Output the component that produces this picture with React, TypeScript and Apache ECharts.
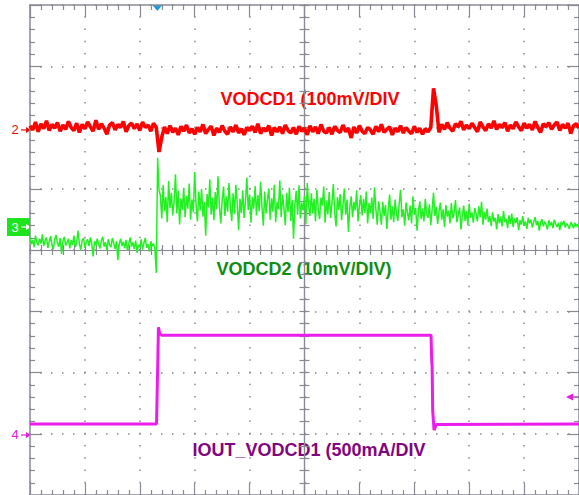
import React, { useEffect, useRef } from "react";
import * as echarts from "echarts";

// time base: 10 horizontal divisions (-5 .. 5)
const T0 = -5;
const RED_DT = 0.05; // div per sample, CH2
const GREEN_DT = 0.025; // div per sample, CH3

// CH2 VODCD1, mV relative to its ground marker (100 mV/div)
const VODCD1_MV = [
  7, 0, 13, -3, 10, 2, 15, -1, 9, 3,
  12, -2, 8, 1, 14, 4, -1, 11, -4, 9,
  2, 13, 5, -2, 16, 1, 10, 3, -7, 8,
  12, 0, 9, 4, 14, -3, 7, 11, 2, 10,
  -1, 13, 4, 8, -2, 11, 4,
  -36, -12,
  5, -6, 7, -4, 3, -8, 6, -2, 8, -5, 2,
  -7, 4, -3, 9, -6, 1, 6, -9, 3, -4,
  7, -2, -7, 5, -3, 8, -5, 2, -8, 4,
  -1, 6, -4, 10, -6, 3, -2, 7, -9, 4,
  -3, 5, -6, 8, -1, -5, 4, -7, 6, -2,
  3, -8, 7, -3, 5, -6, 9, -2, -5, 4,
  -7, 6, -1, -4, 8, -3, 3, -13, 5, -5,
  7, -2, -6, 4, 0, -7, 6, -3, 9, -4,
  1, 5, -8, 3, -3, 7, -5, 4, -2, -6,
  6, -4, 3, -7, 2, -3, 4,
  68, 40, -4,
  9, 1, 12, 3, -2, 10, 5, 14, 0, 8,
  2, 11, 4, -3, 13, 5, -1, 10, 3, 15,
  1, 9, 4, 12, -2, 8, 2, 13, 5, -1,
  11, 3, 9, 0, 14, 4, -4, 10, 5, 12,
  1, 8, 13, -1, 9, 3, 11, -6, 7, 10, 3,
];

// CH3 VODCD2, mV relative to its ground marker (10 mV/div)
const VODCD2_MV = [
  // before the load step
  -1.6, -2.8, -2.1, -3.3, -1.4, -2.5, -3.0, -1.9, -2.7, -1.2,
  -3.1, -2.2, -1.7, -3.4, -2.4, -1.5, -2.9, -3.6, -2.0, -1.3,
  -2.6, -3.2, -1.8, -4.4, -2.3, -1.6, -3.0, -2.5, -1.9, -3.5,
  -2.1, -2.9, -1.4, -3.3, -2.6, -0.6, -2.8, -3.7, -2.2, -1.8,
  -3.4, -2.4, -2.0, -3.1, -1.7, -2.7, -4.8, -2.3, -3.0, -1.9,
  -2.8, -3.5, -2.2, -1.6, -3.2, -2.5, -3.8, -2.0, -2.9, -3.3,
  -1.8, -2.6, -3.6, -2.3, -5.4, -2.8, -1.9, -3.1, -2.4, -3.5,
  -2.1, -3.9, -2.7, -1.7, -3.2, -2.5, -3.6, -2.2, -4.2, -2.9,
  -3.3, -2.0, -3.7, -2.6, -1.8, -3.4, -2.8, -4.0, -2.3, -3.1,
  -2.7, -3.6,
  // step
  -7.5, 11.3, 6.0,
  // after the load step
  5.2, 1.4, 6.8, 2.6, 4.9, 0.8, 7.5, 3.1, 5.6, 1.9,
  4.3, 8.6, 2.2, 5.9, 0.4, 4.7, 2.8, 6.4, 1.6, 5.1,
  3.0, 7.1, 1.2, 4.5, 2.4, 9.0, 3.6, 0.9, 5.8, 2.7,
  6.2, 1.7, 4.1, -1.4, 5.4, 3.2, 7.8, 2.0, 4.8, 1.1,
  5.7, 2.9, 8.3, 3.5, 0.6, 4.4, 6.6, 1.8, 5.0, 2.5,
  7.2, 3.3, 1.0, 5.5, 2.1, 6.9, 3.8, -0.5, 4.6, 2.3,
  6.0, 1.5, 4.2, 8.1, 2.8, 5.3, 0.7, 4.9, 3.0, 6.7,
  1.9, 5.2, 2.6, 7.4, 3.4, 0.2, 5.8, 2.2, 4.5, 6.3,
  1.2, 4.7, 2.5, 6.9, 0.8, 4.1, 2.9, 7.6, 1.6, 5.3,
  3.1, 0.3, 5.6, 2.4, 6.4, 1.0, 4.4, -1.9, 3.7, 5.9,
  2.0, 6.8, 1.4, 4.0, 2.7, 5.1, 0.5, 7.2, 3.3, 1.8,
  5.5, 2.2, 4.6, 0.9, 6.1, 2.9, 1.3, 4.8, 3.5, 6.6,
  0.7, 4.3, 2.1, 5.7, 1.5, 3.9, 7.0, 2.4, 0.1, 4.9,
  2.8, 5.4, 1.1, 3.6, 6.3, 2.0, 4.5, -0.8, 3.2, 5.0,
  1.6, 4.1, 2.7, 6.0, 0.9, 3.4, 5.2, 1.9, 4.6, 2.3,
  5.8, 0.6, 3.9, 2.2, 4.8, 1.3, 6.5, 2.9, 0.4, 4.2,
  2.5, 0.4, 4.1, 1.8, 3.6, -0.3, 2.9, 5.3, 1.2, 3.4,
  0.8, 4.5, 2.2, 1.0, 3.8, 6.1, 1.6, 2.9, 0.2, 4.0,
  2.4, 1.1, 3.5, 0.6, 5.0, 2.0, 3.1, -0.6, 2.6, 4.2,
  1.3, 3.0, 0.9, 4.6, 2.1, 1.5, 3.7, 0.3, 2.8, 5.6,
  1.8, 3.3, 0.5, 2.5, 4.0, 1.2, 2.9, 0.0, 3.6, 1.7,
  2.7, 0.6, 3.9, 1.4, 2.3, 4.4, 0.8, 2.0, 3.2, -0.4,
  1.9, 3.5, 1.0, 2.6, 0.3, 3.8, 1.5, 2.4, 0.7, 3.1,
  2.2, 0.9, 3.4, 1.6, 4.1, 0.4, 2.5, 1.2, 3.0, 0.8,
  1.8, 0.2, 2.4, 0.9, 1.5, -0.4, 2.1, 0.6, 1.7, 0.1,
  2.6, 0.8, 1.3, -0.2, 1.9, 0.5, 2.2, 0.0, 1.4, 0.7,
  1.6, -0.5, 1.1, 0.4, 1.8, 0.2, 0.9, -0.3, 1.5, 0.6,
  1.2, -0.1, 0.8, 1.6, 0.3, 1.0, -0.6, 0.7, 1.3, 0.1,
  0.9, 0.4, -0.4, 1.1, 0.2, 0.8, -0.2, 1.2, 0.5, 0.0,
  0.7, -0.5, 0.9, 0.3, 1.0, -0.1, 0.6, 0.2, -0.3, 0.8,
  0.4, -0.2, 0.7, 0.1, 0.5, -0.1,
];

// CH4 IOUT_VODCD1, mA relative to its ground marker (500 mA/div)
const IOUT_T = [-5, -2.695, -2.685, -2.66, -2.64, -2.6, 2.305, 2.315, 2.325, 2.335, 2.36, 2.4, 5];
const IOUT_MA = [90, 90, 320, 880, 830, 815, 815, 630, 550, 200, 40, 85, 90];

// channel grounds (div) and scales (unit per div)
const CH2_GROUND = 1.96;
const CH2_SCALE = 100;
const CH3_GROUND = 0.375;
const CH3_SCALE = 10;
const CH4_GROUND = -3.02;
const CH4_SCALE = 500;
const TRIG_T = -2.68;
const TRIG_LEVEL = -2.4;

const LABELS = [
  { text: "VODCD1 (100mV/DIV", color: "#ff0000" },
  { text: "VODCD2 (10mV/DIV)", color: "#0f8c12" },
  { text: "IOUT_VODCD1 (500mA/DIV", color: "#82057f" },
];

const GRID_GRAY = "#8a8a94";
const FONT = '"Liberation Sans", Arial, sans-serif';

export default function App() {
  const ref = useRef<HTMLDivElement>(null);
  useEffect(() => {
    if (!ref.current) return;
    const chart = echarts.init(ref.current, null, { renderer: "svg" });

    const baseX = { type: "value", min: -5, max: 5, interval: 1, axisLabel: { show: false } };
    const baseY = { type: "value", min: -4, max: 4, interval: 1, axisLabel: { show: false } };
    const edgeLine = { show: true, onZero: false, lineStyle: { color: GRID_GRAY, width: 1.5 } };
    const edgeTick = { show: true, inside: true, length: 12, lineStyle: { color: GRID_GRAY, width: 1.2 } };
    const edgeMinor = { show: true, splitNumber: 5, length: 5, lineStyle: { color: GRID_GRAY, width: 1.2 } };
    const centerTickIn = { show: true, inside: true, length: 5, lineStyle: { color: GRID_GRAY, width: 1.2 } };
    const centerTickOut = { show: true, inside: false, length: 5, lineStyle: { color: GRID_GRAY, width: 1.2 } };
    const centerMinor = { show: true, splitNumber: 5, length: 5, lineStyle: { color: GRID_GRAY, width: 1.2 } };

    const xAxis = [
      {
        ...baseX, position: "bottom", axisLine: edgeLine, axisTick: edgeTick, minorTick: edgeMinor,
        splitLine: { show: true, lineStyle: { color: GRID_GRAY, width: 1.5, type: [1.5, 10.75], dashOffset: 0.75 } },
      },
      { ...baseX, position: "top", axisLine: edgeLine, axisTick: edgeTick, minorTick: edgeMinor, splitLine: { show: false } },
      {
        ...baseX, position: "bottom",
        axisLine: { show: true, onZero: true, onZeroAxisIndex: 0, lineStyle: { color: GRID_GRAY, width: 1.2 } },
        axisTick: centerTickIn, minorTick: centerMinor, splitLine: { show: false },
      },
      {
        ...baseX, position: "bottom",
        axisLine: { show: true, onZero: true, onZeroAxisIndex: 1, lineStyle: { color: GRID_GRAY, width: 1.2 } },
        axisTick: centerTickOut, minorTick: centerMinor, splitLine: { show: false },
      },
    ];
    const yAxis = [
      {
        ...baseY, position: "left", axisLine: edgeLine, axisTick: edgeTick, minorTick: edgeMinor,
        splitLine: { show: true, lineStyle: { color: GRID_GRAY, width: 1.5, type: [1.5, 9.5], dashOffset: 0.75 } },
      },
      { ...baseY, position: "right", axisLine: edgeLine, axisTick: edgeTick, minorTick: edgeMinor, splitLine: { show: false } },
      {
        ...baseY, position: "left",
        axisLine: { show: true, onZero: true, onZeroAxisIndex: 0, lineStyle: { color: GRID_GRAY, width: 1.2 } },
        axisTick: centerTickIn, minorTick: centerMinor, splitLine: { show: false },
      },
      {
        ...baseY, position: "left",
        axisLine: { show: true, onZero: true, onZeroAxisIndex: 1, lineStyle: { color: GRID_GRAY, width: 1.2 } },
        axisTick: centerTickOut, minorTick: centerMinor, splitLine: { show: false },
      },
    ];

    const red = VODCD1_MV.map((v, i) => [T0 + i * RED_DT, CH2_GROUND + v / CH2_SCALE]);
    const green = VODCD2_MV.map((v, i) => [T0 + i * GREEN_DT, CH3_GROUND + v / CH3_SCALE]);
    const magenta = IOUT_T.map((t, i) => [t, CH4_GROUND + IOUT_MA[i] / CH4_SCALE]);

    chart.setOption({
      animation: false,
      backgroundColor: "#ffffff",
      grid: { left: 30, top: 5, width: 550, height: 490, containLabel: false },
      xAxis,
      yAxis,
      series: [
        {
          type: "line", name: "IOUT_VODCD1", data: magenta, symbol: "none", silent: true,
          lineStyle: { color: "#ec1cec", width: 3 }, z: 3,
        },
        {
          type: "line", name: "VODCD2", data: green, symbol: "none", silent: true,
          lineStyle: { color: "#22f022", width: 1.5 }, z: 4,
        },
        {
          type: "line", name: "VODCD1", data: red, symbol: "none", silent: true,
          lineStyle: { color: "#ff0000", width: 3.6 }, z: 5,
        },
      ],
    });

    const px = (t: number, v: number) =>
      chart.convertToPixel({ xAxisIndex: 0, yAxisIndex: 0 }, [t, v]) as number[];
    const y2 = px(-5, CH2_GROUND)[1];
    const y3 = px(-5, CH3_GROUND)[1];
    const y4 = px(-5, CH4_GROUND)[1];
    const yTrig = px(-5, TRIG_LEVEL)[1];
    const xTrig = px(TRIG_T, 0)[0];

    const marker = (label: string, y: number, color: string) => [
      {
        type: "text", x: 15, y,
        style: { text: label, fill: color, font: `13px ${FONT}`, align: "center", verticalAlign: "middle", textAlign: "center", textVerticalAlign: "middle" },
      },
      { type: "line", shape: { x1: 21, y1: y, x2: 27, y2: y }, style: { stroke: color, lineWidth: 1.2 } },
      { type: "polygon", shape: { points: [[26, y - 3], [31, y], [26, y + 3]] }, style: { fill: color } },
    ];

    const labelPos = [
      [310, 99],
      [304, 269],
      [309, 450],
    ];

    chart.setOption({
      graphic: [
        ...marker("2", y2, "#e01010"),
        { type: "rect", shape: { x: 7, y: y3 - 9, width: 23, height: 18 }, style: { fill: "#1ee41e" } },
        ...marker("3", y3, "#ffffff"),
        ...marker("4", y4, "#e020e0"),
        { type: "line", shape: { x1: 571, y1: yTrig, x2: 579, y2: yTrig }, style: { stroke: "#e020e0", lineWidth: 1.5 } },
        { type: "polygon", shape: { points: [[573, yTrig - 3.5], [566, yTrig], [573, yTrig + 3.5]] }, style: { fill: "#e020e0" } },
        { type: "polygon", shape: { points: [[xTrig - 5, 5], [xTrig + 5, 5], [xTrig, 11]] }, style: { fill: "#1e9be0" } },
        ...LABELS.map((l, i) => ({
          type: "text", x: labelPos[i][0], y: labelPos[i][1],
          style: {
            text: l.text, fill: l.color, font: `bold 18px ${FONT}`,
            align: "center", verticalAlign: "middle", textAlign: "center", textVerticalAlign: "middle",
          },
        })),
      ],
    });

    return () => chart.dispose();
  }, []);

  return (
    <div
      ref={ref}
      style={{ position: "fixed", left: 0, top: 0, width: 579, height: 495, background: "#fff" }}
    />
  );
}
